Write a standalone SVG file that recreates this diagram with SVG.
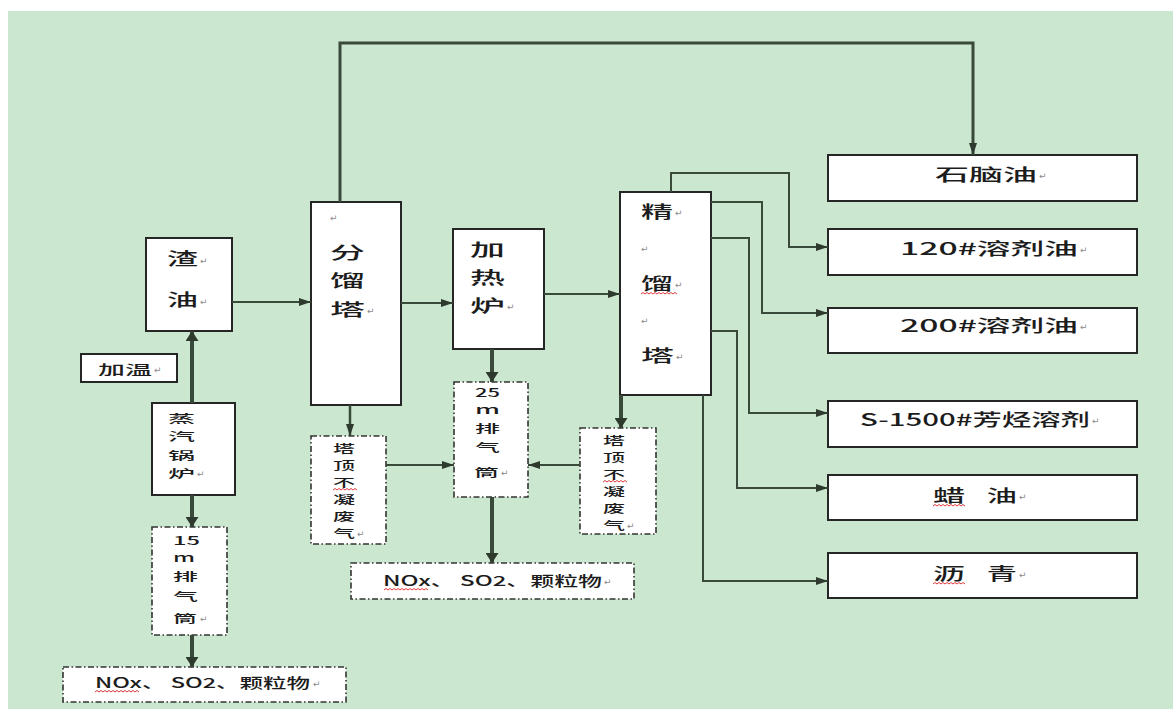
<svg xmlns="http://www.w3.org/2000/svg" width="1173" height="709" viewBox="0 0 1173 709">
<defs>
<style>
.box{fill:#fff;stroke:#262626;stroke-width:2}
.dbox{fill:#fff;stroke:#333;stroke-width:1.6;stroke-dasharray:6 2.5 1.5 2.5}
.t{font-family:"Noto Sans CJK SC","Noto Sans",sans-serif;fill:#1c1c1c;font-weight:500}
.f17{font-size:17px}
.f14{font-size:14px}
.f13{font-size:13px}
.f12{font-size:11.5px}
.pm{font-family:"DejaVu Sans",sans-serif;font-size:9px;fill:#8a8a8a}
.wave{fill:none;stroke:#e03a3a;stroke-width:1}
.ln{fill:none;stroke:#3a4a3a;stroke-width:2}
.lk{fill:none;stroke:#3a4a3a;stroke-width:4}
</style>
<marker id="ah" markerUnits="userSpaceOnUse" markerWidth="12" markerHeight="8" refX="12" refY="4" orient="auto">
<path d="M0,0 L12,4 L0,8 z" fill="#2e3a2e"/>
</marker>
<marker id="ahb" markerUnits="userSpaceOnUse" markerWidth="10" markerHeight="13" refX="10" refY="6.5" orient="auto">
<path d="M0,0 L10,6.5 L0,13 z" fill="#2e3a2e"/>
</marker>
</defs>
<rect x="0" y="0" width="1173" height="709" fill="#fff"/>
<rect x="8" y="11" width="1165" height="698" fill="#cce7cf"/>

<g id="n-zhayou">
<rect class="box" x="146" y="238" width="86" height="93"/>
<text class="t f17" x="167" y="265" textLength="31" lengthAdjust="spacingAndGlyphs">渣</text>
<text class="pm" x="200" y="264">↵</text>
<text class="t f17" x="167" y="306" textLength="31" lengthAdjust="spacingAndGlyphs">油</text>
<text class="pm" x="200" y="305">↵</text>
</g>

<g id="n-jiawen">
<rect class="box" x="81" y="354" width="96" height="28"/>
<text class="t f13" x="98" y="374" textLength="54" lengthAdjust="spacingAndGlyphs">加温</text>
<text class="pm" x="154" y="373">↵</text>
</g>

<g id="n-guolu">
<rect class="box" x="152" y="403" width="83" height="92"/>
<text class="t f12" x="168" y="423" textLength="27" lengthAdjust="spacingAndGlyphs">蒸</text>
<text class="t f12" x="168" y="441" textLength="27" lengthAdjust="spacingAndGlyphs">汽</text>
<text class="t f12" x="168" y="460" textLength="27" lengthAdjust="spacingAndGlyphs">锅</text>
<text class="t f12" x="168" y="478" textLength="27" lengthAdjust="spacingAndGlyphs">炉</text>
<text class="pm" x="197" y="477">↵</text>
</g>

<g id="n-stack15">
<rect class="dbox" x="152" y="527" width="75" height="108"/>
<text class="t f12" x="173" y="545" textLength="27" lengthAdjust="spacingAndGlyphs">15</text>
<text class="t f12" x="173" y="562" textLength="22" lengthAdjust="spacingAndGlyphs">m</text>
<text class="t f12" x="173" y="581" textLength="25" lengthAdjust="spacingAndGlyphs">排</text>
<text class="t f12" x="173" y="601" textLength="25" lengthAdjust="spacingAndGlyphs">气</text>
<text class="t f12" x="173" y="623" textLength="24" lengthAdjust="spacingAndGlyphs">筒</text>
<text class="pm" x="200" y="622">↵</text>
</g>

<g id="n-emis1">
<rect class="dbox" x="63" y="667" width="283" height="35"/>
<text class="t f14" x="95" y="688" textLength="215" lengthAdjust="spacingAndGlyphs">NOx、 SO2、颗粒物</text>
<text class="pm" x="313" y="687">↵</text>
<path class="wave" d="M95,692 l2,-1.5 l2,1.5 l2,-1.5 l2,1.5 l2,-1.5 l2,1.5 l2,-1.5 l2,1.5 l2,-1.5 l2,1.5 l2,-1.5 l2,1.5 l2,-1.5 l2,1.5 l2,-1.5 l2,1.5 l2,-1.5 l2,1.5 l2,-1.5 l2,1.5 l2,-1.5 l2,1.5"/>
</g>

<g id="n-fenliu">
<rect class="box" x="311" y="202" width="90" height="203"/>
<text class="pm" x="330" y="221">↵</text>
<text class="t f17" x="330" y="258.5" textLength="35" lengthAdjust="spacingAndGlyphs">分</text>
<text class="t f17" x="330" y="286.5" textLength="35" lengthAdjust="spacingAndGlyphs">馏</text>
<text class="t f17" x="330" y="315.5" textLength="35" lengthAdjust="spacingAndGlyphs">塔</text>
<text class="pm" x="367" y="314">↵</text>
</g>

<g id="n-jiarelu">
<rect class="box" x="453" y="229" width="91" height="120"/>
<text class="t f17" x="470" y="255.5" textLength="35" lengthAdjust="spacingAndGlyphs">加</text>
<text class="t f17" x="470" y="283.5" textLength="35" lengthAdjust="spacingAndGlyphs">热</text>
<text class="t f17" x="470" y="311.5" textLength="35" lengthAdjust="spacingAndGlyphs">炉</text>
<text class="pm" x="507" y="310">↵</text>
</g>

<g id="n-tading1">
<rect class="dbox" x="311" y="436" width="75" height="108"/>
<text class="t f12" x="333" y="453" textLength="22" lengthAdjust="spacingAndGlyphs">塔</text>
<text class="t f12" x="333" y="470" textLength="22" lengthAdjust="spacingAndGlyphs">顶</text>
<text class="t f12" x="333" y="487" textLength="22" lengthAdjust="spacingAndGlyphs">不</text>
<text class="t f12" x="333" y="504" textLength="22" lengthAdjust="spacingAndGlyphs">凝</text>
<text class="t f12" x="333" y="521" textLength="22" lengthAdjust="spacingAndGlyphs">废</text>
<text class="t f12" x="333" y="538" textLength="22" lengthAdjust="spacingAndGlyphs">气</text>
<text class="pm" x="357" y="537">↵</text>
<path class="wave" d="M333,490 l2,-1.5 l2,1.5 l2,-1.5 l2,1.5 l2,-1.5 l2,1.5 l2,-1.5 l2,1.5 l2,-1.5 l2,1.5 l2,-1.5 l2,1.5"/>
</g>

<g id="n-stack25">
<rect class="dbox" x="454" y="382" width="74" height="115"/>
<text class="t f12" x="475" y="397" textLength="25" lengthAdjust="spacingAndGlyphs">25</text>
<text class="t f12" x="475" y="414" textLength="25" lengthAdjust="spacingAndGlyphs">m</text>
<text class="t f12" x="475" y="433" textLength="25" lengthAdjust="spacingAndGlyphs">排</text>
<text class="t f12" x="475" y="452" textLength="25" lengthAdjust="spacingAndGlyphs">气</text>
<text class="t f12" x="474" y="477" textLength="25" lengthAdjust="spacingAndGlyphs">筒</text>
<text class="pm" x="501" y="476">↵</text>
</g>

<g id="n-tading2">
<rect class="dbox" x="580" y="428" width="76" height="106"/>
<text class="t f12" x="603" y="445" textLength="22" lengthAdjust="spacingAndGlyphs">塔</text>
<text class="t f12" x="603" y="462" textLength="22" lengthAdjust="spacingAndGlyphs">顶</text>
<text class="t f12" x="603" y="479" textLength="22" lengthAdjust="spacingAndGlyphs">不</text>
<text class="t f12" x="603" y="496" textLength="22" lengthAdjust="spacingAndGlyphs">凝</text>
<text class="t f12" x="603" y="513" textLength="22" lengthAdjust="spacingAndGlyphs">废</text>
<text class="t f12" x="603" y="530" textLength="22" lengthAdjust="spacingAndGlyphs">气</text>
<text class="pm" x="627" y="529">↵</text>
<path class="wave" d="M603,482 l2,-1.5 l2,1.5 l2,-1.5 l2,1.5 l2,-1.5 l2,1.5 l2,-1.5 l2,1.5 l2,-1.5 l2,1.5 l2,-1.5 l2,1.5"/>
</g>

<g id="n-emis2">
<rect class="dbox" x="351" y="563" width="283" height="36"/>
<text class="t f14" x="383" y="586" textLength="219" lengthAdjust="spacingAndGlyphs">NOx、 SO2、颗粒物</text>
<text class="pm" x="604" y="585">↵</text>
<path class="wave" d="M384,590 l2,-1.5 l2,1.5 l2,-1.5 l2,1.5 l2,-1.5 l2,1.5 l2,-1.5 l2,1.5 l2,-1.5 l2,1.5 l2,-1.5 l2,1.5 l2,-1.5 l2,1.5 l2,-1.5 l2,1.5 l2,-1.5 l2,1.5 l2,-1.5 l2,1.5 l2,-1.5 l2,1.5"/>
</g>

<g id="n-jingliu">
<rect class="box" x="620" y="192" width="91" height="203"/>
<text class="t f17" x="641" y="217.5" textLength="32" lengthAdjust="spacingAndGlyphs">精</text>
<text class="pm" x="675" y="216">↵</text>
<text class="pm" x="641" y="252">↵</text>
<text class="t f17" x="641" y="289.5" textLength="32" lengthAdjust="spacingAndGlyphs">馏</text>
<text class="pm" x="675" y="288">↵</text>
<text class="pm" x="641" y="324">↵</text>
<text class="t f17" x="641" y="361.5" textLength="33" lengthAdjust="spacingAndGlyphs">塔</text>
<text class="pm" x="676" y="360">↵</text>
<path class="wave" d="M641,294 l2,-1.5 l2,1.5 l2,-1.5 l2,1.5 l2,-1.5 l2,1.5 l2,-1.5 l2,1.5 l2,-1.5 l2,1.5 l2,-1.5 l2,1.5 l2,-1.5 l2,1.5 l2,-1.5 l2,1.5 l2,-1.5 l2,1.5"/>
</g>

<g id="n-naphtha">
<rect class="box" x="828" y="155" width="309" height="46"/>
<text class="t f17" x="935" y="180.5" textLength="102" lengthAdjust="spacingAndGlyphs">石脑油</text>
<text class="pm" x="1039" y="179">↵</text>
</g>

<g id="n-s120">
<rect class="box" x="828" y="229" width="309" height="46"/>
<text class="t f17" x="900" y="254.5" textLength="178" lengthAdjust="spacingAndGlyphs">120#溶剂油</text>
<text class="pm" x="1080" y="253">↵</text>
</g>

<g id="n-s200">
<rect class="box" x="828" y="308" width="309" height="45"/>
<text class="t f17" x="900" y="331.5" textLength="178" lengthAdjust="spacingAndGlyphs">200#溶剂油</text>
<text class="pm" x="1080" y="330">↵</text>
</g>

<g id="n-s1500">
<rect class="box" x="828" y="401" width="309" height="46"/>
<text class="t f17" x="860" y="425.5" textLength="230" lengthAdjust="spacingAndGlyphs">S-1500#芳烃溶剂</text>
<text class="pm" x="1092" y="424">↵</text>
</g>

<g id="n-layou">
<rect class="box" x="828" y="475" width="309" height="45"/>
<text class="t f17" y="501.5"><tspan x="933" textLength="32" lengthAdjust="spacingAndGlyphs">蜡</tspan><tspan x="980" textLength="37" lengthAdjust="spacingAndGlyphs"> 油</tspan></text>
<text class="pm" x="1019" y="500">↵</text>
<path class="wave" d="M933,506 l2,-1.5 l2,1.5 l2,-1.5 l2,1.5 l2,-1.5 l2,1.5 l2,-1.5 l2,1.5 l2,-1.5 l2,1.5 l2,-1.5 l2,1.5 l2,-1.5 l2,1.5 l2,-1.5 l2,1.5"/>
</g>

<g id="n-liqing">
<rect class="box" x="828" y="553" width="309" height="45"/>
<text class="t f17" y="579.5"><tspan x="933" textLength="32" lengthAdjust="spacingAndGlyphs">沥</tspan><tspan x="980" textLength="37" lengthAdjust="spacingAndGlyphs"> 青</tspan></text>
<text class="pm" x="1019" y="578">↵</text>
<path class="wave" d="M933,584 l2,-1.5 l2,1.5 l2,-1.5 l2,1.5 l2,-1.5 l2,1.5 l2,-1.5 l2,1.5 l2,-1.5 l2,1.5 l2,-1.5 l2,1.5 l2,-1.5 l2,1.5 l2,-1.5 l2,1.5"/>
</g>

<g id="connectors">
<path class="ln" d="M232,302 H311" marker-end="url(#ah)"/>
<path class="ln" d="M401,303 H453" marker-end="url(#ah)"/>
<path class="ln" d="M544,294 H620" marker-end="url(#ah)"/>
<path class="ln" d="M386,465 H454" marker-end="url(#ah)"/>
<path class="ln" d="M580,465 H528" marker-end="url(#ah)"/>
<path class="ln" style="stroke-width:3" d="M340,202 V43 H973 V155" marker-end="url(#ah)"/>
<path class="ln" style="stroke-width:2.5" d="M350,405 V436" marker-end="url(#ah)"/>
<path class="ln" d="M671,192 V173 H789 V247 H828" marker-end="url(#ah)"/>
<path class="ln" d="M711,202 H762 V313 H828" marker-end="url(#ah)"/>
<path class="ln" d="M711,238 H749 V413 H828" marker-end="url(#ah)"/>
<path class="ln" d="M711,331 H737 V488 H828" marker-end="url(#ah)"/>
<path class="ln" d="M703,395 V581 H828" marker-end="url(#ah)"/>
<path class="lk" d="M192,403 V331" marker-end="url(#ahb)"/>
<path class="lk" d="M192,495 V527" marker-end="url(#ahb)"/>
<path class="lk" d="M192,635 V667" marker-end="url(#ahb)"/>
<path class="lk" d="M492,349 V382" marker-end="url(#ahb)"/>
<path class="lk" d="M492,497 V563" marker-end="url(#ahb)"/>
<path class="lk" d="M621,395 V428" marker-end="url(#ahb)"/>
</g>
</svg>
